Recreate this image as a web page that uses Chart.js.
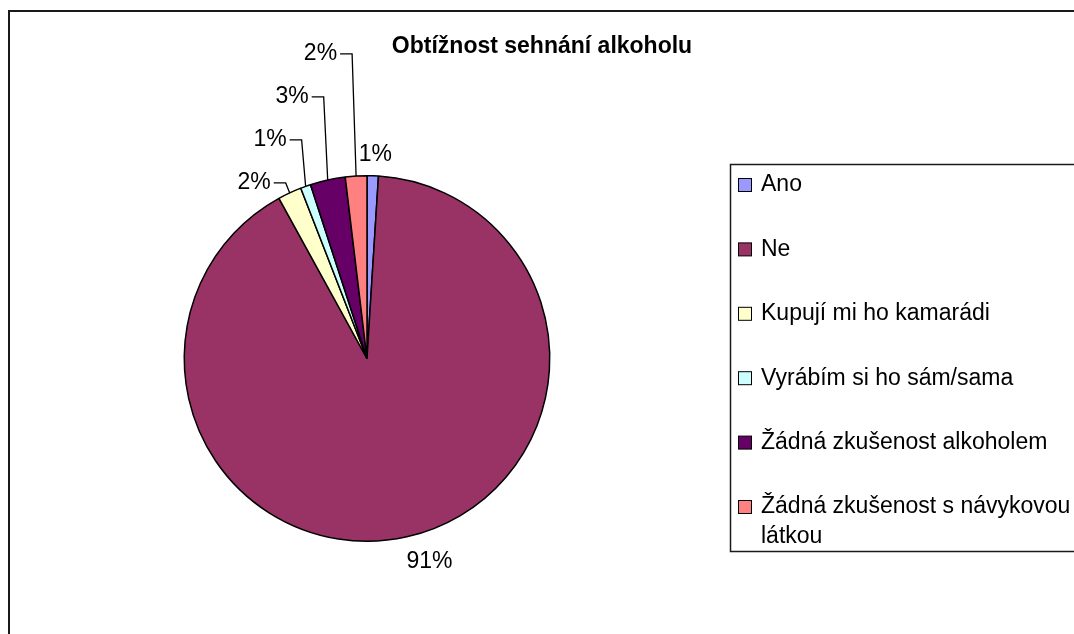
<!DOCTYPE html>
<html>
<head>
<meta charset="utf-8">
<script src="https://cdn.jsdelivr.net/npm/chart.js@4"></script>
<style>
  html, body { margin: 0; padding: 0; background: #fff; }
  #wrap { width: 1074px; height: 634px; }
</style>
</head>
<body>
<div id="wrap"><canvas id="pie" width="1074" height="634"></canvas></div>
<script>
const chartTitle = 'Obtížnost sehnání alkoholu';
const categories = ['Ano', 'Ne', 'Kupují mi ho kamarádi', 'Vyrábím si ho sám/sama',
                    'Žádná zkušenost alkoholem', 'Žádná zkušenost s návykovou látkou'];
const shares = [1.0, 91.0, 2.1, 0.9, 3.1, 1.9];
const sliceColors = ['#9999FF', '#993366', '#FFFFCC', '#CCFFFF', '#660066', '#FF8080'];

const FONT = "'Liberation Sans', Arial, sans-serif";

function pct(v) {
    let total = shares.reduce((a, b) => a + b, 0);
    return Math.round(v / total * 100) + '%';
}

// frame, title, legend box and the percent labels with leader lines
const decor = {
    id: 'decor',
    afterDraw(chart) {
        const ctx = chart.ctx;
        ctx.save();

        // outer frame
        ctx.strokeStyle = '#1a1a1a';
        ctx.lineWidth = 2;
        ctx.strokeRect(9, 11, 1200, 800);

        // title
        ctx.fillStyle = '#000';
        ctx.font = 'bold 23px ' + FONT;
        ctx.textAlign = 'center';
        ctx.textBaseline = 'alphabetic';
        ctx.fillText(chartTitle, 542, 53);

        // legend
        ctx.lineWidth = 1.5;
        ctx.strokeStyle = '#1a1a1a';
        ctx.strokeRect(730.5, 164.5, 500, 387);
        ctx.font = '23px ' + FONT;
        ctx.textAlign = 'left';
        ctx.textBaseline = 'middle';
        const maxW = 1074 - 761 - 1;
        chart.data.labels.forEach((lab, i) => {
            const yc = 185 + i * 64.4;
            ctx.fillStyle = chart.data.datasets[0].backgroundColor[i];
            ctx.fillRect(738.5, yc - 6.5, 13, 13);
            ctx.lineWidth = 1;
            ctx.strokeStyle = '#000';
            ctx.strokeRect(738.5, yc - 6.5, 13, 13);
            ctx.fillStyle = '#000';
            let words = lab.split(' ');
            let lines = [];
            let cur = '';
            words.forEach(w => {
                let t = cur ? cur + ' ' + w : w;
                if (ctx.measureText(t).width > maxW && cur) {
                    lines.push(cur);
                    cur = w;
                } else {
                    cur = t;
                }
            });
            lines.push(cur);
            lines.forEach((ln, k) => ctx.fillText(ln, 761, yc + k * 30));
        });

        // percent labels
        const meta = chart.getDatasetMeta(0);
        const data = chart.data.datasets[0].data;
        ctx.font = '23px ' + FONT;
        ctx.fillStyle = '#000';
        ctx.strokeStyle = '#000';
        ctx.lineWidth = 1.3;
        let prevY = null;
        meta.data.forEach((arc, i) => {
            const a = (arc.startAngle + arc.endAngle) / 2;
            const r = arc.outerRadius;
            const cx = Math.cos(a), sy = Math.sin(a);
            const txt = pct(data[i]);
            const w = ctx.measureText(txt).width;
            const px = arc.x + r * cx, py = arc.y + r * sy;
            if (cx < 0 && sy < 0) {
                // upper-left crowd: stack upwards with leader lines
                let y = py - 10;
                if (prevY !== null) y = Math.min(y, prevY - 43);
                prevY = y;
                const ex = px - 4;
                ctx.beginPath();
                ctx.moveTo(px, py);
                ctx.lineTo(ex, y);
                ctx.lineTo(ex - 12, y);
                ctx.stroke();
                ctx.textAlign = 'right';
                ctx.fillText(txt, ex - 15, y);
            } else {
                const off = r + 10 + Math.abs(cx) * w / 2 + Math.abs(sy) * 11;
                ctx.textAlign = 'center';
                ctx.fillText(txt, arc.x + off * cx + (sy > 0 ? 17 : 2), arc.y + off * sy);
            }
        });

        ctx.restore();
    }
};

new Chart(document.getElementById('pie'), {
    type: 'pie',
    data: {
        labels: categories,
        datasets: [{
            data: shares,
            backgroundColor: sliceColors,
            borderColor: '#000',
            borderWidth: 1.5
        }]
    },
    options: {
        responsive: false,
        animation: false,
        events: [],
        layout: { padding: { left: 183, right: 523, top: 175, bottom: 92 } },
        plugins: {
            legend: { display: false },
            title: { display: false },
            tooltip: { enabled: false }
        }
    },
    plugins: [decor]
});
</script>
</body>
</html>
